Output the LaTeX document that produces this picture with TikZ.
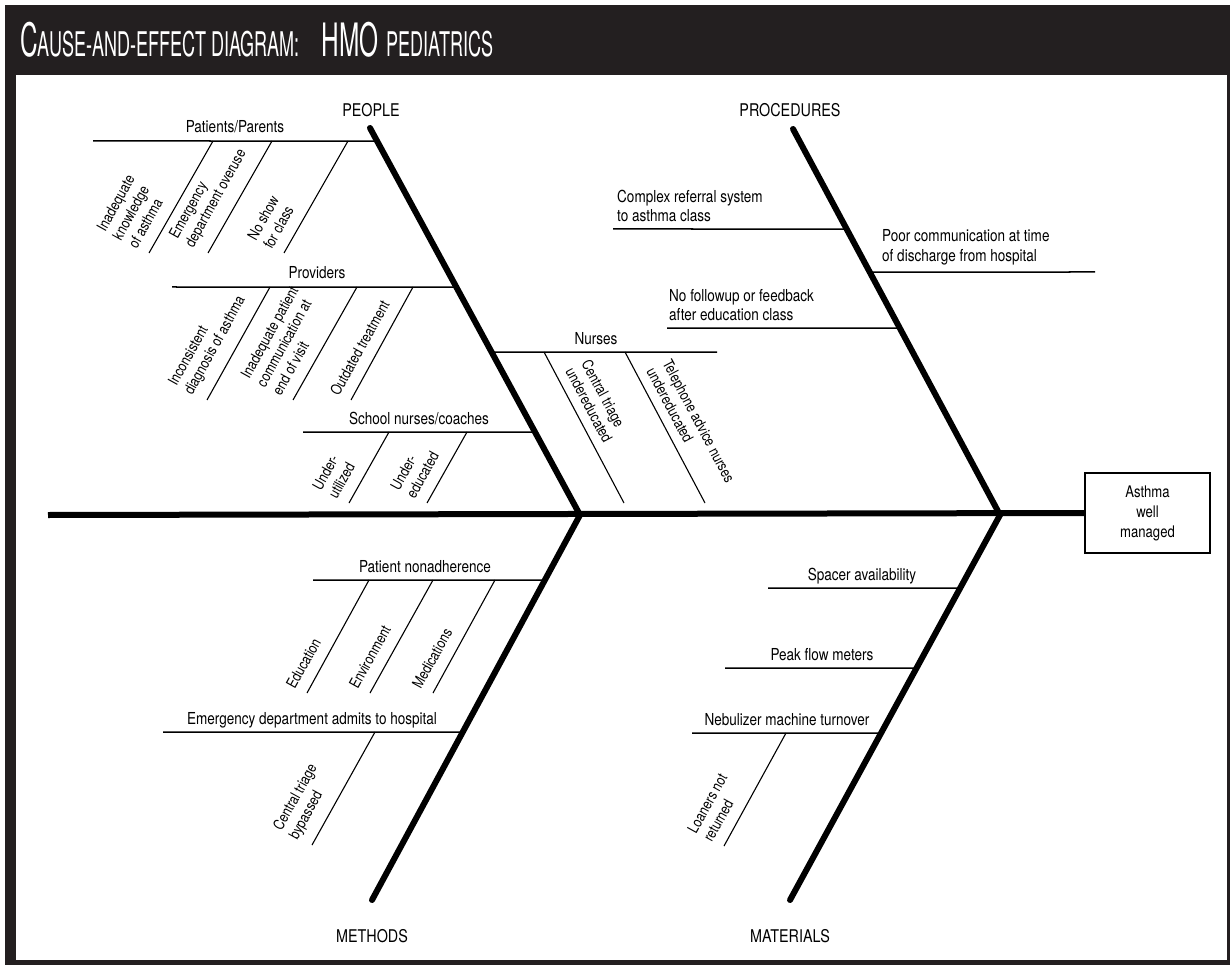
\documentclass[tikz,border=0pt]{standalone}
\usepackage{fontspec}
\usetikzlibrary{calc}
\setmainfont{TeX Gyre Heros}[FakeStretch=0.82]
\newfontfamily\headfont{TeX Gyre Heros}[FakeStretch=0.53]
\definecolor{ink}{HTML}{231F20}
\begin{document}
\begin{tikzpicture}[x=1pt,y=-1pt,
  every node/.style={font=\fontsize{16.5}{19.5}\selectfont, inner sep=0pt},
  bone/.style={line width=6pt, line cap=round},
  spine/.style={line width=6pt},
  rib/.style={line width=1.5pt},
  twig/.style={line width=1.1pt},
  riblabel/.style={anchor=base},
  note/.style={anchor=south west, align=left},
  twigfont/.style={font=\fontsize{15}{18}\selectfont},
  uptext/.style={twigfont, xshift=-11pt, rotate=61, anchor=south west, align=left, inner sep=2pt},
  downtext/.style={twigfont, rotate=-62, anchor=south west, align=left, inner sep=2pt},
  category/.style={font=\fontsize{17.5}{20}\selectfont},
  effectbox/.style={draw, line width=1.5pt, minimum width=125pt, minimum height=80pt,
    align=center, font=\fontsize{16}{20}\selectfont}
]
% page, frame and header band
\useasboundingbox (0,0) rectangle (1230,965);
\fill[white] (0,0) rectangle (1230,965);
\fill[ink] (5,5) rectangle (1230,965);
\fill[white] (16,75) rectangle (1227,960);
\node[anchor=base west, text=white] (title) at (20,57)
  {\headfont\fontsize{46}{46}\selectfont C\fontsize{34}{34}\selectfont AUSE-AND-EFFECT DIAGRAM:\hspace{22pt}\fontsize{46}{46}\selectfont HMO\hspace{8pt}\fontsize{34}{34}\selectfont PEDIATRICS};

% skeleton points
\coordinate (tail) at (48,515);
\coordinate (jL) at (580,515);
\coordinate (jR) at (1000,515);
\coordinate (peopleTop) at (370,128);
\coordinate (procTop) at (793,129);
\coordinate (methBot) at (372,900);
\coordinate (matBot) at (790,900);
\node[effectbox] (effect) at (1147.5,513) {Asthma\\well\\managed};

% rib end points
\coordinate (patL) at (93,141);
\coordinate (patR) at (intersection of peopleTop--jL and 0,141--100,141);
\coordinate (provL) at (172,287);
\coordinate (provR) at (intersection of peopleTop--jL and 0,287--100,287);
\coordinate (schL) at (303,432);
\coordinate (schR) at (intersection of peopleTop--jL and 0,432--100,432);
\coordinate (nurL) at (intersection of peopleTop--jL and 0,352--100,352);
\coordinate (nurR) at (717,352);
\coordinate (cmpL) at (613,229);
\coordinate (cmpR) at (intersection of procTop--jR and 0,229--100,229);
\coordinate (poorL) at (intersection of procTop--jR and 0,272--100,272);
\coordinate (poorR) at (1095,272);
\coordinate (folL) at (667,328);
\coordinate (folR) at (intersection of procTop--jR and 0,328--100,328);
\coordinate (nonL) at (313,580);
\coordinate (nonR) at (intersection of jL--methBot and 0,580--100,580);
\coordinate (edaL) at (163,732);
\coordinate (edaR) at (intersection of jL--methBot and 0,732--100,732);
\coordinate (spcL) at (768,588);
\coordinate (spcR) at (intersection of jR--matBot and 0,588--100,588);
\coordinate (pkL) at (725,668);
\coordinate (pkR) at (intersection of jR--matBot and 0,668--100,668);
\coordinate (nebL) at (692,733);
\coordinate (nebR) at (intersection of jR--matBot and 0,733--100,733);

% twig end points (top on the rib, bottom free)
\coordinate (pa1t) at (213,141); \coordinate (pa1b) at (149,253);
\coordinate (pa2t) at (272,141); \coordinate (pa2b) at (208,253);
\coordinate (pa3t) at (348,141); \coordinate (pa3b) at (284,253);
\coordinate (pr1t) at (270,287); \coordinate (pr1b) at (207,400);
\coordinate (pr2t) at (357,287); \coordinate (pr2b) at (293,400);
\coordinate (pr3t) at (413,287); \coordinate (pr3b) at (351,400);
\coordinate (sc1t) at (389,432); \coordinate (sc1b) at (349,503);
\coordinate (sc2t) at (467,432); \coordinate (sc2b) at (427,503);
\coordinate (nu1t) at (544,352); \coordinate (nu1b) at (624,503);
\coordinate (nu2t) at (625,352); \coordinate (nu2b) at (705,503);
\coordinate (no1t) at (369,580); \coordinate (no1b) at (307,693);
\coordinate (no2t) at (433,580); \coordinate (no2b) at (370,693);
\coordinate (no3t) at (495,580); \coordinate (no3b) at (433,693);
\coordinate (ed1t) at (375,732); \coordinate (ed1b) at (312,845);
\coordinate (ne1t) at (786,733); \coordinate (ne1b) at (724,846);

% ribs
\draw[rib] (patL) -- (patR);
\draw[rib] (provL) -- (provR);
\draw[rib] (schL) -- (schR);
\draw[rib] (nurL) -- (nurR);
\draw[rib] (cmpL) -- (cmpR);
\draw[rib] (poorL) -- (poorR);
\draw[rib] (folL) -- (folR);
\draw[rib] (nonL) -- (nonR);
\draw[rib] (edaL) -- (edaR);
\draw[rib] (spcL) -- (spcR);
\draw[rib] (pkL) -- (pkR);
\draw[rib] (nebL) -- (nebR);

% twigs
\foreach \t in {pa1,pa2,pa3,pr1,pr2,pr3,sc1,sc2,nu1,nu2,no1,no2,no3,ed1,ne1}
  \draw[twig] (\t t) -- (\t b);

% main bones and spine
\draw[spine] (tail) -- (effect.west);
\draw[bone] (peopleTop) -- (jL);
\draw[bone] (procTop) -- (jR);
\draw[bone] (jL) -- (methBot);
\draw[bone] (jR) -- (matBot);

% category headings
\node[category] (people) at (371,110) {PEOPLE};
\node[category] (procedures) at (790,110) {PROCEDURES};
\node[category] (methods) at (372,936) {METHODS};
\node[category] (materials) at (790,936) {MATERIALS};

% rib labels
\node[riblabel] (patLbl) at (235,133) {Patients/Parents};
\node[riblabel] (provLbl) at (317,279) {Providers};
\node[riblabel] (schLbl) at (419,424) {School nurses/coaches};
\node[riblabel] (nurLbl) at (596,344) {Nurses};
\node[riblabel] (nonLbl) at (425,572) {Patient nonadherence};
\node[riblabel] (edaLbl) at (312,724) {Emergency department admits to hospital};
\node[riblabel] (spcLbl) at (862,580) {Spacer availability};
\node[riblabel] (pkLbl) at (822,660) {Peak flow meters};
\node[riblabel] (nebLbl) at (787,725) {Nebulizer machine turnover};
\node[note] (cmpLbl) at (617,222) {Complex referral system\\to asthma class};
\node[note] (poorLbl) at (882,265) {Poor communication at time\\of discharge from hospital};
\node[note] (folLbl) at (669,321) {No followup or feedback\\after education class};

% twig labels
\node[uptext] (pa1Lbl) at (pa1b) {Inadequate\\knowledge\\of asthma};
\node[uptext] (pa2Lbl) at (pa2b) {Emergency\\department overuse};
\node[uptext] (pa3Lbl) at (pa3b) {No show\\for class};
\node[uptext] (pr1Lbl) at (pr1b) {Inconsistent\\diagnosis of asthma};
\node[uptext] (pr2Lbl) at (pr2b) {Inadequate patient\\communication at\\end of visit};
\node[uptext] (pr3Lbl) at (pr3b) {Outdated treatment};
\node[uptext] (sc1Lbl) at (sc1b) {Under-\\utilized};
\node[uptext] (sc2Lbl) at (sc2b) {Under-\\educated};
\node[downtext] (nu1Lbl) at ($(nu1t)+(18,19)$) {Central triage\\undereducated};
\node[downtext] (nu2Lbl) at ($(nu2t)+(18,19)$) {Telephone advice nurses\\undereducated};
\node[uptext] (no1Lbl) at (no1b) {Education};
\node[uptext] (no2Lbl) at (no2b) {Environment};
\node[uptext] (no3Lbl) at (no3b) {Medications};
\node[uptext] (ed1Lbl) at (ed1b) {Central triage\\bypassed};
\node[uptext] (ne1Lbl) at (ne1b) {Loaners not\\returned};
\end{tikzpicture}
\end{document}
